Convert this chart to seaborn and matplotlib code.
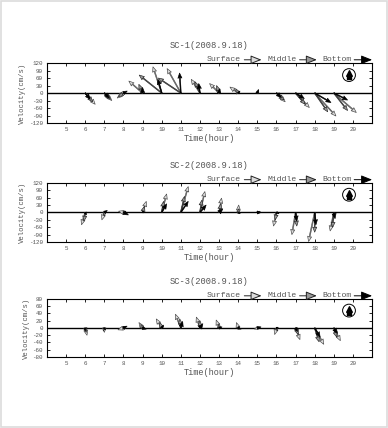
import matplotlib
matplotlib.use("Agg")
import matplotlib.pyplot as plt
import seaborn as sns
import numpy as np

# ---------------- data ----------------
hours = [6, 7, 8, 9, 10, 11, 12, 13, 14, 15, 16, 17, 18, 19]
titles = ["SC-1(2008.9.18)", "SC-2(2008.9.18)", "SC-3(2008.9.18)"]
layers = ["Surface", "Middle", "Bottom"]
xticks = list(range(5, 21))

sc1_surface_u = [40, 30, -25, -55, -35, -55, -35, -38, -33, 5, 35, 55, 85, 90]
sc1_surface_v = [-45, -30, -20, 48, 105, 98, 55, 38, 24, 15, -35, -58, -92, -78]
sc1_middle_u = [30, 25, -20, -15, -90, -90, -20, -10, -10, 0, 30, 38, 52, 55]
sc1_middle_v = [-35, -25, -15, 35, 72, 60, 45, 30, 17, 8, -28, -45, -75, -70]
sc1_bottom_u = [20, 20, 15, 0, -15, -5, -5, 3, 7, 5, 20, 35, 65, 55]
sc1_bottom_v = [-25, -20, 8, 22, 55, 80, 38, 17, 8, 12, -18, -22, -38, -28]

sc2_surface_u = [-15, -10, -20, 15, 20, 30, 20, 10, 2, 10, -12, -15, -25, -15]
sc2_surface_v = [-50, -30, 5, 45, 75, 105, 85, 58, 30, 5, -55, -90, -118, -75]
sc2_middle_u = [-5, 0, 10, 8, 8, 15, 8, 8, 3, 12, -5, 5, 0, -5]
sc2_middle_v = [-35, -15, 5, 25, 45, 65, 50, 35, 15, 3, -30, -55, -80, -60]
sc2_bottom_u = [5, 12, 20, 5, 20, 30, 25, 15, 8, 15, 10, 5, 5, 5]
sc2_bottom_v = [-10, 8, -10, 5, 35, 45, 30, 15, -5, 0, -5, -35, -50, -25]

sc3_surface_u = [5, 0, -15, -10, -15, -15, -10, -8, -5, -8, -5, 12, 25, 18]
sc3_surface_v = [-20, -12, -5, 15, 25, 38, 30, 22, 15, -3, -18, -32, -45, -35]
sc3_middle_u = [3, -3, 10, -5, -5, -3, 0, 0, 3, 5, 3, 8, 12, 8]
sc3_middle_v = [-12, -8, 5, 10, 15, 25, 20, 12, 5, 2, -8, -18, -38, -25]
sc3_bottom_u = [0, 3, 8, 10, 5, 5, 8, 8, 8, 10, 5, 5, 15, 10]
sc3_bottom_v = [-8, -5, 5, -3, 8, 18, 12, 3, -3, 3, 2, -10, -25, -15]

panels = [
    dict(title=titles[0], ymax=120, ystep=30,
         u=[sc1_surface_u, sc1_middle_u, sc1_bottom_u],
         v=[sc1_surface_v, sc1_middle_v, sc1_bottom_v]),
    dict(title=titles[1], ymax=120, ystep=30,
         u=[sc2_surface_u, sc2_middle_u, sc2_bottom_u],
         v=[sc2_surface_v, sc2_middle_v, sc2_bottom_v]),
    dict(title=titles[2], ymax=80, ystep=20,
         u=[sc3_surface_u, sc3_middle_u, sc3_bottom_u],
         v=[sc3_surface_v, sc3_middle_v, sc3_bottom_v]),
]

# ---------------- style ----------------
sns.set_theme(style="ticks")
plt.rcParams["font.family"] = ["Liberation Mono", "DejaVu Sans Mono"]
TXT = "#555555"

fig = plt.figure(figsize=(3.88, 4.28), dpi=100)
fig.patch.set_facecolor("white")
fig.add_artist(plt.Rectangle((0.002, 0.002), 0.996, 0.996, transform=fig.transFigure,
                             fill=False, edgecolor="#dcdcdc", linewidth=1.2))

boxes = [(0.121, 0.7126, 0.838, 0.140),
         (0.121, 0.4346, 0.838, 0.138),
         (0.121, 0.1659, 0.838, 0.1355)]

head_fc = ["#dddddd", "#999999", "#000000"]
head_ec = ["#444444", "#222222", "#000000"]

for box, p in zip(boxes, panels):
    ax = fig.add_axes(box)
    ymax = p["ymax"]
    ax.set_xlim(4, 21)
    ax.set_ylim(-ymax, ymax)
    ax.axhline(0, color="black", linewidth=1.0, zorder=1)
    for i in range(3):
        ax.quiver(hours, np.zeros(len(hours)), p["u"][i], p["v"][i],
                  angles="uv", scale_units="y", scale=1, pivot="tail",
                  width=0.0026, headwidth=4.8, headlength=6, headaxislength=5.4,
                  facecolor=head_fc[i], edgecolor=head_ec[i], linewidth=0.45,
                  zorder=3 + i)
    ax.set_xticks(xticks)
    ax.set_xticklabels([str(t) for t in xticks])
    yt = list(range(-ymax, ymax + 1, p["ystep"]))
    ax.set_yticks(yt)
    ax.set_yticklabels([str(t) for t in yt])
    ax.tick_params(direction="in", length=2.5, width=0.6, top=True, right=True,
                   labelsize=4.2, colors="black", labelcolor=TXT, pad=3)
    for s in ax.spines.values():
        s.set_linewidth(0.8)
        s.set_color("black")
    ax.set_xlabel("Time(hour)", fontsize=6.2, color=TXT, labelpad=1.5)
    ax.set_ylabel("Velocity(cm/s)", fontsize=5.2, color=TXT, labelpad=2)
    ax.set_title(p["title"], fontsize=6.3, color=TXT, pad=11)

    # legend row above the axes
    ly = 1.055
    entries = [(0.49, 0.607, 0.66), (0.677, 0.777, 0.83), (0.847, 0.945, 1.0)]
    for j, (tx, a0, a1) in enumerate(entries):
        ax.text(tx, ly, layers[j], transform=ax.transAxes, fontsize=5.9,
                color=TXT, va="center", ha="left")
        ax.annotate("", xy=(a1, ly), xytext=(a0, ly), xycoords="axes fraction",
                    textcoords="axes fraction", annotation_clip=False,
                    arrowprops=dict(arrowstyle="-|>,head_length=0.55,head_width=0.22",
                                    fc=head_fc[j], ec="#222222" if j < 2 else "black",
                                    lw=0.7, shrinkA=0, shrinkB=0))

    # north indicator
    ax.scatter([0.929], [0.80], transform=ax.transAxes, s=85, facecolors="none",
               edgecolors="black", linewidths=0.7, zorder=6)
    ax.scatter([0.929], [0.83], transform=ax.transAxes, s=16, marker="^",
               color="black", zorder=7)
    ax.scatter([0.929], [0.76], transform=ax.transAxes, s=10, marker="s",
               color="black", zorder=7)

fig.savefig("out.png", dpi=100, facecolor="white")
